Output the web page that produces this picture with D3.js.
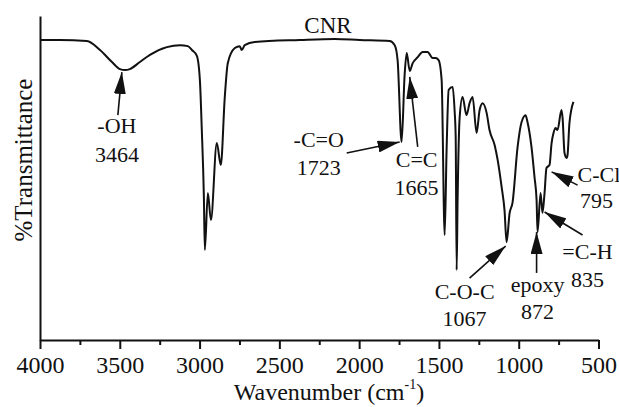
<!DOCTYPE html>
<html>
<head>
<meta charset="utf-8">
<script src="https://cdn.jsdelivr.net/npm/d3@7"></script>
<style>
  body { margin: 0; background: #fff; }
  text { font-family: "Liberation Serif", "Times New Roman", serif; fill: #111; }
</style>
</head>
<body>
<div class="ftir"></div>
<script>
// spectrum: wavenumber (cm-1) and %T (arbitrary 0-100)
var wavenumber = [4000, 3875, 3706, 3624, 3549, 3499, 3468, 3437, 3374, 3311,
  3205, 3123, 3073, 3048, 3017, 2998, 2986, 2973, 2967, 2948,
  2929, 2892, 2867, 2842, 2823, 2779, 2748, 2736, 2717, 2654,
  2372, 2153, 1996, 1809, 1777, 1759, 1734, 1715, 1702, 1683,
  1665, 1633, 1602, 1571, 1539, 1521, 1502, 1483, 1464, 1452,
  1439, 1414, 1402, 1395, 1389, 1383, 1370, 1352, 1327, 1308,
  1289, 1264, 1245, 1226, 1201, 1183, 1151, 1132, 1107, 1089,
  1076, 1057, 1039, 1007, 982, 957, 945, 920, 901, 888,
  882, 863, 851, 838, 826, 807, 794, 782, 769, 757,
  732, 725, 713, 700, 694, 682, 657];
var transmittance = [92.6, 92.6, 92.3, 89.5, 85.8, 83.6, 83.3, 83.6, 85.8, 88.0,
  90.4, 91.0, 90.7, 89.5, 87.7, 80.2, 64.8, 44.1, 27.8, 45.4,
  37.0, 60.8, 54.0, 75.0, 85.5, 90.1, 90.7, 89.5, 91.0, 92.0,
  92.6, 92.9, 92.6, 92.3, 91.0, 86.4, 61.1, 81.8, 88.6, 83.0,
  85.4, 87.3, 88.9, 88.9, 87.0, 87.0, 86.4, 80.2, 32.4, 58.6,
  77.2, 78.1, 71.0, 62.7, 21.6, 43.2, 68.8, 75.0, 69.4, 73.1,
  75.0, 63.9, 71.0, 73.1, 70.1, 64.8, 60.2, 55.6, 47.2, 40.1,
  30.2, 39.2, 42.3, 59.6, 67.3, 69.4, 67.3, 59.6, 50.3, 43.2,
  33.3, 45.4, 39.2, 45.4, 53.1, 54.0, 60.8, 63.9, 65.4, 64.8,
  71.0, 68.5, 57.7, 56.2, 57.1, 67.0, 73.5];

var majorTicks = [4000, 3500, 3000, 2500, 2000, 1500, 1000, 500];
var minorTicks = [3750, 3250, 2750, 2250, 1750, 1250, 750];

// band labels: text lines, arrow tip / tail and label anchor in data units
var bandNames  = ["-OH", "-C=O", "C=C", "C-O-C", "epoxy", "=C-H", "C-Cl"];
var bandValues = ["3464", "1723", "1665", "1067", "872", "835", "795"];
var arrowTips  = [[3487, 82.7], [1746, 61.1], [1683, 81.2], [1082, 29.0], [888, 33.3], [838, 39.5], [794, 51.9]];
var arrowTails = [[3512, 69.4], [2078, 57.7], [1633, 59.6], [1308, 19.1], [888, 20.7], [600, 32.4], [631, 47.8]];
var nameAt     = [[3518, 63.9], [2253, 59.6], [1640, 53.4], [1339, 12.7], [882, 14.8], [569, 25.0], [631, 48.8]];
var valueAt    = [[3518, 54.9], [2253, 50.9], [1640, 44.8], [1339, 4.3], [882, 6.5], [569, 16.4], [512, 40.7]];

var width = 619, height = 407;

var x = d3.scaleLinear().domain([4000, 500]).range([40, 598.5]);
var y = d3.scaleLinear().domain([0, 100]).range([340, 16]);

var svg = d3.select(".ftir").append("svg")
    .attr("width", width)
    .attr("height", height);

// arrow head
svg.append("defs").append("marker")
    .attr("id", "head")
    .attr("viewBox", "0 0 22 12")
    .attr("refX", 22).attr("refY", 6)
    .attr("markerWidth", 22).attr("markerHeight", 12)
    .attr("markerUnits", "userSpaceOnUse")
    .attr("orient", "auto")
  .append("path")
    .attr("d", "M0,0L22,6L0,12Z")
    .attr("fill", "#111");

// the spectrum
var data = wavenumber.map(function(d, i) { return {wn: d, t: transmittance[i]}; });
var line = d3.line()
    .x(function(d) { return x(d.wn); })
    .y(function(d) { return y(d.t); })
    .curve(d3.curveMonotoneX);

svg.append("path")
    .datum(data)
    .attr("d", line)
    .attr("fill", "none")
    .attr("stroke", "#111")
    .attr("stroke-width", 2)
    .attr("stroke-linejoin", "round");

// X axis, major and minor ticks pointing down
var xAxis = svg.append("g")
    .attr("transform", "translate(0,340)")
    .call(d3.axisBottom(x).tickValues(majorTicks).tickSize(9).tickSizeOuter(0).tickPadding(7).tickFormat(d3.format("d")));
xAxis.append("g")
    .call(d3.axisBottom(x).tickValues(minorTicks).tickSize(5).tickFormat(""))
    .select(".domain").remove();
xAxis.selectAll("path, line").attr("stroke", "#111").attr("stroke-width", 2);
xAxis.selectAll("text")
    .attr("font-size", 24)
    .attr("fill", "#111");

// Y axis, no ticks
var yAxis = svg.append("g")
    .attr("transform", "translate(40,0)")
    .call(d3.axisLeft(y).tickValues([]).tickSizeOuter(0));
yAxis.selectAll("path").attr("stroke", "#111").attr("stroke-width", 2);

// axis titles
var xTitle = svg.append("text")
    .attr("x", 329).attr("y", 400)
    .attr("text-anchor", "middle")
    .attr("font-size", 24);
xTitle.append("tspan").text("Wavenumber (cm");
xTitle.append("tspan").attr("dy", -11).attr("font-size", 14).text("-1");
xTitle.append("tspan").attr("dy", 11).text(")");

svg.append("text")
    .attr("transform", "translate(32,160) rotate(-90)")
    .attr("text-anchor", "middle")
    .attr("font-size", 25)
    .text("%Transmittance");

svg.append("text")
    .attr("x", 328).attr("y", 33)
    .attr("text-anchor", "middle")
    .attr("font-size", 23)
    .text("CNR");

// band arrows and labels
bandNames.forEach(function(name, i) {
  svg.append("line")
      .attr("x1", x(arrowTails[i][0])).attr("y1", y(arrowTails[i][1]))
      .attr("x2", x(arrowTips[i][0])).attr("y2", y(arrowTips[i][1]))
      .attr("stroke", "#111")
      .attr("stroke-width", 1.6)
      .attr("marker-end", "url(#head)");

  svg.append("text")
      .attr("x", x(nameAt[i][0])).attr("y", y(nameAt[i][1]))
      .attr("text-anchor", name === "C-Cl" ? "start" : "middle")
      .attr("font-size", 22)
      .text(name);

  svg.append("text")
      .attr("x", x(valueAt[i][0])).attr("y", y(valueAt[i][1]))
      .attr("text-anchor", "middle")
      .attr("font-size", 22)
      .text(bandValues[i]);
});
</script>
</body>
</html>
